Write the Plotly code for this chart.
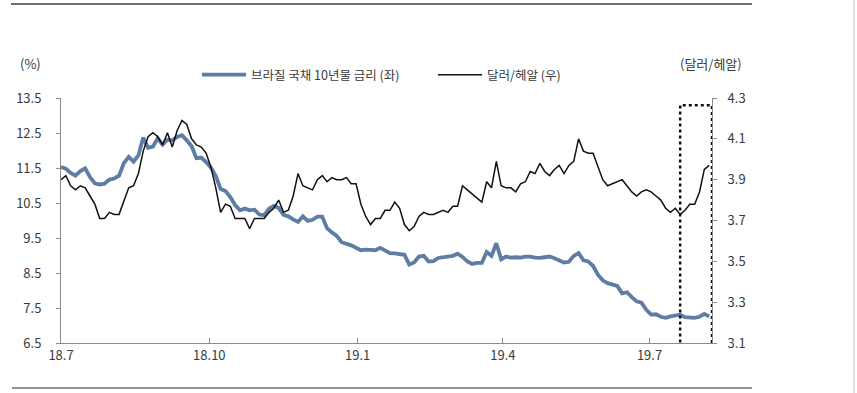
import plotly.graph_objects as go

# ---------------- data ----------------
dates = [
    "2018-07-01","2018-07-04","2018-07-07","2018-07-10","2018-07-13","2018-07-16","2018-07-19","2018-07-22","2018-07-25","2018-07-28","2018-07-31",
    "2018-08-03","2018-08-06","2018-08-09","2018-08-12","2018-08-15","2018-08-18","2018-08-21","2018-08-24","2018-08-27","2018-08-30",
    "2018-09-02","2018-09-05","2018-09-08","2018-09-11","2018-09-14","2018-09-17","2018-09-20","2018-09-23","2018-09-26","2018-09-29",
    "2018-10-02","2018-10-05","2018-10-08","2018-10-11","2018-10-14","2018-10-17","2018-10-20","2018-10-23","2018-10-26","2018-10-29",
    "2018-11-01","2018-11-04","2018-11-07","2018-11-10","2018-11-13","2018-11-16","2018-11-19","2018-11-22","2018-11-25","2018-11-28",
    "2018-12-01","2018-12-04","2018-12-07","2018-12-10","2018-12-13","2018-12-16","2018-12-19","2018-12-22","2018-12-25","2018-12-28","2018-12-31",
    "2019-01-03","2019-01-06","2019-01-09","2019-01-12","2019-01-15","2019-01-18","2019-01-21","2019-01-24","2019-01-27","2019-01-30",
    "2019-02-02","2019-02-05","2019-02-08","2019-02-11","2019-02-14","2019-02-17","2019-02-20","2019-02-23","2019-02-26",
    "2019-03-01","2019-03-04","2019-03-07","2019-03-10","2019-03-13","2019-03-16","2019-03-19","2019-03-22","2019-03-25","2019-03-28","2019-03-31",
    "2019-04-03","2019-04-06","2019-04-09","2019-04-12","2019-04-15","2019-04-18","2019-04-21","2019-04-24","2019-04-27","2019-04-30",
    "2019-05-03","2019-05-06","2019-05-09","2019-05-12","2019-05-15","2019-05-18","2019-05-21","2019-05-24","2019-05-27","2019-05-30",
    "2019-06-02","2019-06-05","2019-06-08","2019-06-11","2019-06-14","2019-06-17","2019-06-20","2019-06-23","2019-06-26","2019-06-29",
    "2019-07-02","2019-07-05","2019-07-08","2019-07-11","2019-07-14","2019-07-17","2019-07-20","2019-07-23","2019-07-26","2019-07-29",
    "2019-08-01","2019-08-04","2019-08-07",
]

# Brazil 10Y government bond yield (%), left axis
bond_10y = [
    11.53, 11.48, 11.36, 11.28, 11.41, 11.49, 11.24, 11.06, 11.03, 11.05, 11.17,
    11.20, 11.28, 11.64, 11.82, 11.68, 11.86, 12.37, 12.08, 12.11, 12.35,
    12.17, 12.31, 12.29, 12.39, 12.44, 12.29, 12.12, 11.78, 11.80, 11.67,
    11.51, 11.27, 10.90, 10.84, 10.67, 10.44, 10.29, 10.34, 10.29, 10.31,
    10.17, 10.15, 10.34, 10.42, 10.36, 10.16, 10.12, 10.03, 9.96, 10.12,
    9.99, 10.02, 10.11, 10.11, 9.78, 9.66, 9.56, 9.38, 9.34, 9.29, 9.22,
    9.15, 9.17, 9.16, 9.15, 9.22, 9.14, 9.07, 9.06, 9.05, 9.02,
    8.74, 8.80, 8.97, 8.99, 8.83, 8.84, 8.93, 8.95, 8.96,
    8.99, 9.05, 8.96, 8.83, 8.76, 8.79, 8.79, 9.10, 8.99, 9.35, 8.89,
    8.97, 8.94, 8.95, 8.94, 8.97, 8.97, 8.94, 8.93, 8.95, 8.97,
    8.92, 8.86, 8.80, 8.82, 8.99, 9.07, 8.86, 8.83, 8.70, 8.45,
    8.29, 8.21, 8.18, 8.13, 7.92, 7.95, 7.81, 7.69, 7.65, 7.45,
    7.31, 7.32, 7.25, 7.22, 7.26, 7.28, 7.31, 7.24, 7.22, 7.22,
    7.25, 7.33, 7.26,
]

# USD/BRL, right axis
usd_brl = [
    3.90, 3.92, 3.87, 3.85, 3.87, 3.86, 3.82, 3.78, 3.71, 3.71, 3.74,
    3.73, 3.73, 3.80, 3.86, 3.87, 3.93, 4.04, 4.11, 4.13, 4.11,
    4.07, 4.13, 4.06, 4.14, 4.19, 4.17, 4.10, 4.07, 4.06, 4.03,
    3.96, 3.86, 3.74, 3.78, 3.77, 3.71, 3.71, 3.71, 3.66, 3.71,
    3.71, 3.71, 3.74, 3.76, 3.80, 3.74, 3.75, 3.82, 3.93, 3.87,
    3.86, 3.85, 3.90, 3.92, 3.89, 3.91, 3.90, 3.90, 3.91, 3.88, 3.88,
    3.78, 3.72, 3.68, 3.71, 3.71, 3.75, 3.75, 3.79, 3.76, 3.68,
    3.65, 3.67, 3.72, 3.74, 3.73, 3.73, 3.74, 3.75, 3.74,
    3.77, 3.77, 3.87, 3.85, 3.83, 3.81, 3.79, 3.89, 3.86, 3.99, 3.87,
    3.86, 3.86, 3.84, 3.88, 3.89, 3.94, 3.93, 3.98, 3.94, 3.92,
    3.95, 3.97, 3.93, 3.97, 3.99, 4.10, 4.04, 4.03, 4.03, 3.97,
    3.90, 3.87, 3.88, 3.89, 3.90, 3.87, 3.84, 3.82, 3.84, 3.85,
    3.84, 3.82, 3.80, 3.76, 3.74, 3.76, 3.73, 3.75, 3.78, 3.78,
    3.84, 3.95, 3.97,
]

tick_dates = ["2018-07-01", "2018-10-01", "2019-01-01", "2019-04-01", "2019-07-01"]
tick_labels = ["18.7", "18.10", "19.1", "19.4", "19.7"]

name_bond = "브라질 국채 10년물 금리 (좌)"
name_fx = "달러/헤알 (우)"
left_unit = "(%)"
right_unit = "(달러/헤알)"

highlight_start = "2019-07-20"
highlight_end = "2019-08-08 18:00"
highlight_low, highlight_high = 3.08, 4.265

# ---------------- layout ----------------
W, H = 857, 393
ML, MR, MT, MB = 61, 145, 98, 50
PW, PH = W - ML - MR, H - MT - MB


def px_x(px):
    return (px - ML) / PW


def px_y(py):
    return (H - MB - py) / PH


FONT = "Noto Sans CJK KR, Noto Sans, sans-serif"
BLUE = "#5d7da4"
AXIS = "#8c8c8c"
TXT = "#3a3a3a"

fig = go.Figure()
fig.add_trace(go.Scatter(x=dates, y=bond_10y, name=name_bond, mode="lines",
                         line=dict(color=BLUE, width=3.8), yaxis="y"))
fig.add_trace(go.Scatter(x=dates, y=usd_brl, name=name_fx, mode="lines",
                         line=dict(color="#111111", width=1.5), yaxis="y2"))

fig.update_layout(
    width=W, height=H, autosize=False,
    margin=dict(l=ML, r=MR, t=MT, b=MB, pad=0),
    paper_bgcolor="white", plot_bgcolor="white",
    font=dict(family=FONT, size=13, color=TXT),
    showlegend=True,
    legend=dict(orientation="h", x=px_x(197), y=px_y(75), xanchor="left", yanchor="middle",
                font=dict(size=12.5, color=TXT), bgcolor="rgba(0,0,0,0)",
                entrywidth=177, entrywidthmode="pixels", itemwidth=44),
    xaxis=dict(type="date", range=["2018-07-01", highlight_end],
               tickvals=tick_dates, ticktext=tick_labels,
               showgrid=False, zeroline=False, showline=True, linecolor=AXIS, linewidth=1,
               ticks="inside", ticklen=5, tickcolor=AXIS, tickfont=dict(size=13, color=TXT)),
    yaxis=dict(range=[6.5, 13.5], dtick=1, tick0=6.5, tickformat=".1f",
               showgrid=False, zeroline=False, showline=True, linecolor=AXIS, linewidth=1,
               ticks="outside", ticklen=4, tickcolor=AXIS, ticklabelstandoff=12,
               tickfont=dict(size=13, color=TXT)),
    yaxis2=dict(range=[3.1, 4.3], dtick=0.2, tick0=3.1, tickformat=".1f",
                overlaying="y", side="right",
                showgrid=False, zeroline=False, showline=True, linecolor=AXIS, linewidth=1,
                ticks="outside", ticklen=4, tickcolor=AXIS, ticklabelstandoff=8,
                tickfont=dict(size=13, color=TXT)),
)

# highlight box (dotted)
fig.add_shape(type="rect", xref="x", yref="y2",
              x0=highlight_start, x1=highlight_end, y0=highlight_low, y1=highlight_high,
              line=dict(color="#111111", width=2.5, dash="dot"), fillcolor="rgba(0,0,0,0)",
              layer="above")

# frame lines of the report
fig.add_shape(type="line", xref="paper", yref="paper",
              x0=px_x(11), x1=px_x(752), y0=px_y(4), y1=px_y(4),
              line=dict(color="#6e6e6e", width=2))
fig.add_shape(type="line", xref="paper", yref="paper",
              x0=px_x(12), x1=px_x(752), y0=px_y(388), y1=px_y(388),
              line=dict(color="#6e6e6e", width=1.5))
fig.add_shape(type="line", xref="paper", yref="paper",
              x0=px_x(854), x1=px_x(854), y0=px_y(0), y1=px_y(393),
              line=dict(color="#e2e2e2", width=2))

# unit labels
fig.add_annotation(text=left_unit, xref="paper", yref="paper", x=px_x(30), y=px_y(64),
                   xanchor="center", yanchor="middle", showarrow=False,
                   font=dict(size=13, color=TXT))
fig.add_annotation(text=right_unit, xref="paper", yref="paper", x=px_x(711), y=px_y(64),
                   xanchor="center", yanchor="middle", showarrow=False,
                   font=dict(size=13, color=TXT))

fig.write_html("out.html",
               config={"displayModeBar": False},
               post_script="document.body.style.margin='0px';document.body.style.overflow='hidden';")
